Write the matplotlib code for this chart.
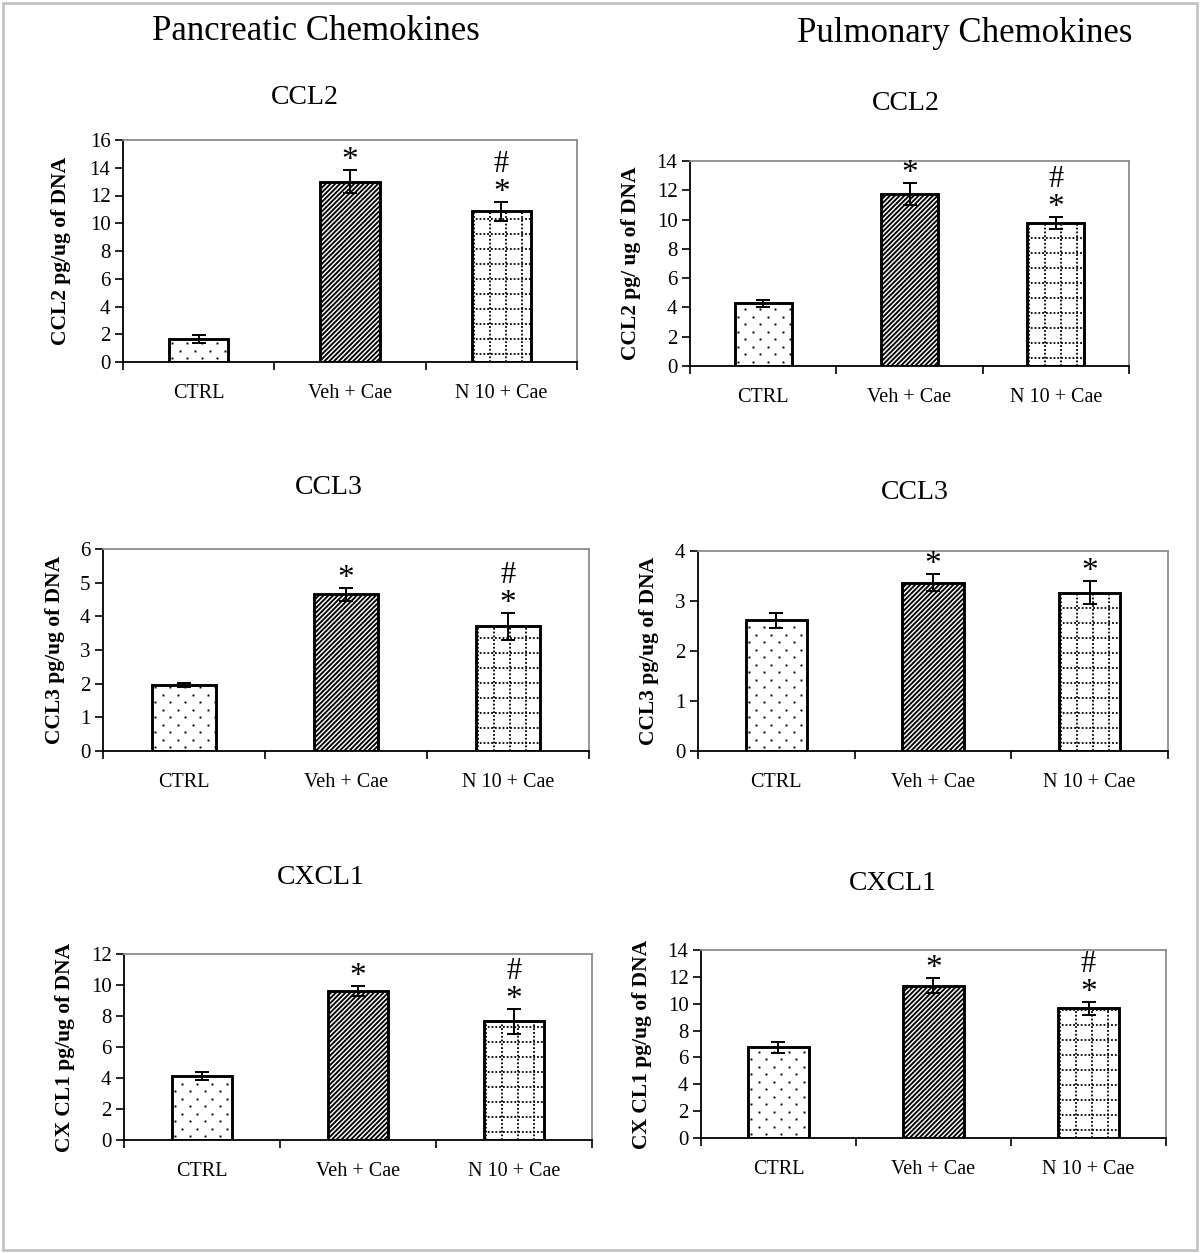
import matplotlib.pyplot as plt
import numpy as np
from matplotlib.patches import Rectangle

plt.rcParams["font.family"] = ["Liberation Serif", "DejaVu Serif"]
plt.rcParams["hatch.linewidth"] = 1.35

W, H = 1200, 1253

categories = ["CTRL", "Veh + Cae", "N 10 + Cae"]

# values (mean, error)
panc_ccl2 = [1.65, 13.0, 10.87]
panc_ccl2_err = [0.27, 0.84, 0.69]
pulm_ccl2 = [4.28, 11.73, 9.79]
pulm_ccl2_err = [0.22, 0.75, 0.41]

panc_ccl3 = [1.97, 4.66, 3.71]
panc_ccl3_err = [0.06, 0.19, 0.40]
pulm_ccl3 = [2.62, 3.37, 3.17]
pulm_ccl3_err = [0.15, 0.17, 0.23]

panc_cxcl1 = [4.12, 9.61, 7.65]
panc_cxcl1_err = [0.25, 0.34, 0.80]
pulm_cxcl1 = [6.74, 11.35, 9.66]
pulm_cxcl1_err = [0.40, 0.55, 0.50]

# significance marks per bar, bottom to top
marks_hash = [[], ["*"], ["*", "#"]]
marks_star = [[], ["*"], ["*"]]


def px_box(x0, y0, x1, y1):
    return [x0 / W, 1 - y1 / H, (x1 - x0) / W, (y1 - y0) / H]


panels = [
    dict(box=(123, 140, 577, 362), title="CCL2", title_xy=(305, 98),
         ylabel="CCL2 pg/ug of DNA", ylabel_x=61, ymax=16, step=2,
         vals=panc_ccl2, errs=panc_ccl2_err, marks=marks_hash),
    dict(box=(690, 161, 1129, 366), title="CCL2", title_xy=(906, 104),
         ylabel="CCL2 pg/ ug of DNA", ylabel_x=631, ymax=14, step=2,
         vals=pulm_ccl2, errs=pulm_ccl2_err, marks=marks_hash),
    dict(box=(103, 549, 589, 751), title="CCL3", title_xy=(329, 487),
         ylabel="CCL3 pg/ug of DNA", ylabel_x=55, ymax=6, step=1,
         vals=panc_ccl3, errs=panc_ccl3_err, marks=marks_hash),
    dict(box=(698, 551, 1168, 751), title="CCL3", title_xy=(915, 493),
         ylabel="CCL3 pg/ug of DNA", ylabel_x=649, ymax=4, step=1,
         vals=pulm_ccl3, errs=pulm_ccl3_err, marks=marks_star),
    dict(box=(124, 954, 592, 1140), title="CXCL1", title_xy=(321, 878),
         ylabel="CX CL1 pg/ug of DNA", ylabel_x=65, ymax=12, step=2,
         vals=panc_cxcl1, errs=panc_cxcl1_err, marks=marks_hash),
    dict(box=(701, 950, 1166, 1138), title="CXCL1", title_xy=(893, 883),
         ylabel="CX CL1 pg/ug of DNA", ylabel_x=642, ymax=14, step=2,
         vals=pulm_cxcl1, errs=pulm_cxcl1_err, marks=marks_hash),
]


def px_scale(box, ymax):
    # data units per pixel in x and y
    return 3 / (box[2] - box[0]), ymax / (box[3] - box[1])


def dot_fill(ax, bar, box, ymax):
    sx, sy = px_scale(box, ymax)
    x0, x1 = bar.get_x(), bar.get_x() + bar.get_width()
    top = bar.get_height()
    xs, ys = [], []
    for k, y in enumerate(np.arange(4 * sy, top, 7.5 * sy)):
        shift = 3 * sx if k % 2 == 0 else 10.5 * sx
        for x in np.arange(x0 + shift, x1, 15 * sx):
            xs.append(x)
            ys.append(y)
    pts, = ax.plot(xs, ys, ls="none", marker="s", ms=1.4, mfc="black",
                   mec="none", zorder=2)
    pts.set_clip_path(bar)


def dotted_grid(ax, bar, box, ymax):
    sx, sy = px_scale(box, ymax)
    x0, x1 = bar.get_x(), bar.get_x() + bar.get_width()
    top = bar.get_height()
    style = dict(color="black", lw=1.3, linestyle=(0, (1, 1.1)), zorder=2)
    for x in np.arange(x0 + 2 * sx, x1, 16 * sx):
        ln, = ax.plot([x, x], [0, top], **style)
        ln.set_clip_path(bar)
    for y in np.arange(8 * sy, top, 15 * sy):
        ln, = ax.plot([x0, x1], [y, y], **style)
        ln.set_clip_path(bar)


def draw_panel(fig, p):
    ax = fig.add_axes(px_box(*p["box"]))
    x = np.arange(len(categories))
    bars = ax.bar(x, p["vals"], width=0.39, color="white",
                  edgecolor="black", linewidth=1.8, zorder=2)
    bars[1].set_hatch("///////")
    ax.set_xlim(-0.5, 2.5)
    ax.set_ylim(0, p["ymax"])
    dot_fill(ax, bars[0], p["box"], p["ymax"])
    dotted_grid(ax, bars[2], p["box"], p["ymax"])
    for b in bars:
        ax.add_patch(Rectangle((b.get_x(), 0), b.get_width(), b.get_height(),
                               fill=False, edgecolor="black", lw=1.9, zorder=3))
    ax.errorbar(x, p["vals"], yerr=p["errs"], fmt="none", ecolor="black",
                elinewidth=1.4, capsize=5, capthick=1.4, zorder=4)

    for i, labels in enumerate(p["marks"]):
        top = p["vals"][i] + p["errs"][i]
        for s in labels:
            if s == "*":
                ax.annotate(s, xy=(i, top), xytext=(0, 6.5),
                            textcoords="offset points", ha="center",
                            va="center", fontsize=24)
            else:
                ax.annotate(s, xy=(i, top), xytext=(0, 27),
                            textcoords="offset points", ha="center",
                            va="center", fontsize=22)

    ax.set_xticks([-0.5, 0.5, 1.5, 2.5])
    ax.set_xticklabels([])
    ax.set_xticks(x, minor=True)
    ax.set_xticklabels(categories, minor=True)
    ax.tick_params(axis="x", which="major", direction="out", length=6,
                   width=1.2)
    ax.tick_params(axis="x", which="minor", length=0, pad=16,
                   labelsize=14.5)
    ax.set_yticks(np.arange(0, p["ymax"] + p["step"], p["step"]))
    ax.tick_params(axis="y", direction="out", length=6, width=1.2,
                   labelsize=15, pad=3)

    for side in ["left", "bottom"]:
        ax.spines[side].set_linewidth(1.3)
        ax.spines[side].set_color("black")
    for side in ["top", "right"]:
        ax.spines[side].set_linewidth(1.3)
        ax.spines[side].set_color("#8c8c8c")

    ycen = (p["box"][1] + p["box"][3]) / 2
    fig.text(p["ylabel_x"] / W, 1 - ycen / H, p["ylabel"], rotation=90,
             ha="center", va="center", fontsize=15.5, fontweight="bold")
    tx, ty = p["title_xy"]
    fig.text(tx / W, 1 - ty / H, p["title"], ha="center", va="center",
             fontsize=20)
    return ax


fig = plt.figure(figsize=(W / 100, H / 100), dpi=100)

for p in panels:
    draw_panel(fig, p)

fig.text(316 / W, 1 - 32 / H, "Pancreatic Chemokines", ha="center",
         va="center", fontsize=25)
fig.text(965 / W, 1 - 33 / H, "Pulmonary Chemokines", ha="center",
         va="center", fontsize=25)

fig.add_artist(Rectangle((3 / W, 3 / H), 1194 / W, 1247 / H,
                         transform=fig.transFigure, fill=False,
                         edgecolor="#c4c4c4", lw=2))

fig.savefig("out.png", dpi=100)
